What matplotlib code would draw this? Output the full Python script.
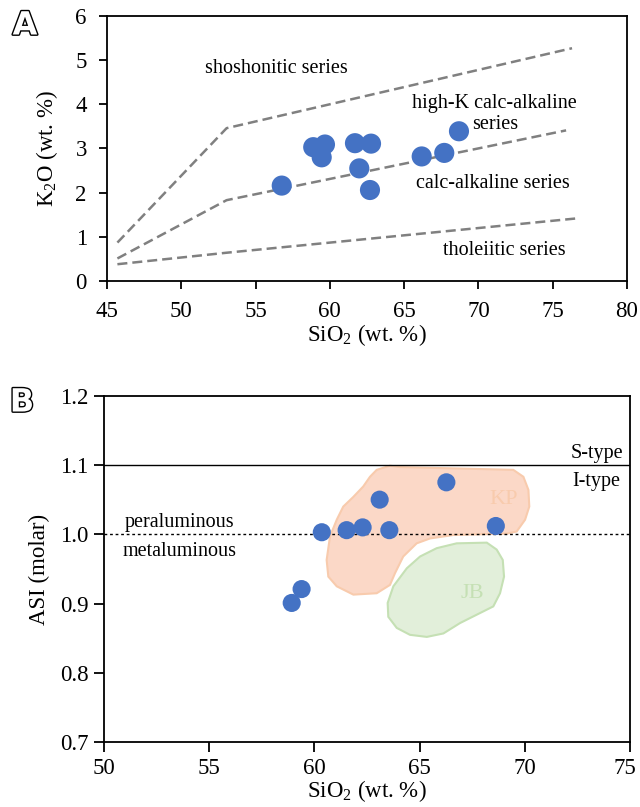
import matplotlib
matplotlib.use("Agg")
import matplotlib.pyplot as plt
import matplotlib.patheffects as pe
import matplotlib.transforms as mtransforms
from matplotlib.patches import Polygon

plt.rcParams['font.family'] = ['Liberation Serif', 'DejaVu Serif']
plt.rcParams['mathtext.fontset'] = 'custom'
plt.rcParams['mathtext.rm'] = 'Liberation Serif'
plt.rcParams['mathtext.it'] = 'Liberation Serif:italic'

# ---- panel A data: K2O vs SiO2 ----
sio2_a = [56.76, 58.88, 59.45, 59.67, 61.69, 62.77, 61.98, 62.70, 66.18, 67.70, 68.69]
k2o_a = [2.16, 3.03, 2.80, 3.09, 3.12, 3.11, 2.55, 2.06, 2.82, 2.90, 3.39]

# series boundaries (Peccerillo & Taylor style)
sho_x = [45.7, 53.05, 76.3]
sho_y = [0.87, 3.46, 5.27]
hik_x = [45.7, 53.05, 75.9]
hik_y = [0.51, 1.83, 3.41]
tho_x = [45.7, 53.05, 76.7]
tho_y = [0.38, 0.64, 1.42]

# ---- panel B data: ASI vs SiO2 ----
sio2_b = [58.92, 59.39, 60.35, 61.53, 62.29, 63.10, 63.56, 66.27, 68.62]
asi_b = [0.901, 0.921, 1.003, 1.006, 1.010, 1.050, 1.006, 1.075, 1.012]

kp_x = [62.96, 63.59, 64.07, 69.45, 69.93, 70.17, 70.21, 70.01, 69.61, 69.14, 66.60,
        65.49, 64.86, 64.22, 63.83, 63.59, 62.96, 61.85, 61.06, 60.66, 60.58, 60.74,
        61.06, 61.37, 61.85, 62.32, 62.64]
kp_y = [1.093, 1.099, 1.097, 1.093, 1.083, 1.064, 1.040, 1.021, 1.004, 1.001, 0.999,
        0.994, 0.987, 0.968, 0.944, 0.927, 0.915, 0.913, 0.925, 0.939, 0.963, 0.997,
        1.021, 1.040, 1.054, 1.069, 1.083]
jb_x = [66.76, 68.19, 68.66, 68.95, 69.01, 68.82, 68.50, 67.71, 66.92, 66.13, 65.34,
        64.54, 63.91, 63.51, 63.48, 63.75, 64.39, 65.02, 65.81]
jb_y = [0.987, 0.988, 0.978, 0.963, 0.939, 0.915, 0.896, 0.884, 0.872, 0.857, 0.852,
        0.855, 0.865, 0.881, 0.901, 0.925, 0.951, 0.968, 0.980]

blue = '#4472C4'

fig = plt.figure(figsize=(6.4, 8.07), dpi=100)
axA = fig.add_axes([0.1672, 0.6518, 0.8125, 0.3284])
axB = fig.add_axes([0.1625, 0.0802, 0.822, 0.4295])

for ax in (axA, axB):
    for sp in ax.spines.values():
        sp.set_linewidth(1.3)
axA.tick_params(direction='out', length=5.5, width=1.3, pad=9, labelsize=16.5, top=False, right=False)
axB.tick_params(direction='out', length=7.5, width=1.3, pad=3.5, labelsize=16.5, top=False, right=False)

# panel A
for xs, ys in ((sho_x, sho_y), (hik_x, hik_y), (tho_x, tho_y)):
    axA.plot(xs, ys, ls=(0, (4, 2)), color='#808080', lw=1.8)
axA.scatter(sio2_a, k2o_a, s=210, color=blue, zorder=3, edgecolors='none')
axA.set_xlim(45, 80)
axA.set_ylim(0, 6)
axA.set_xticks(range(45, 81, 5))
axA.set_yticks(range(0, 7))
axA.set_xlabel('SiO$_2$ (wt. %)', fontsize=16.5, labelpad=0)
axA.set_ylabel('K$_2$O (wt. %)', fontsize=16.5, labelpad=11)
tk = dict(fontsize=14.5, ha='center', va='center')
axA.text(56.4, 4.82, 'shoshonitic series', **tk)
axA.text(71.1, 3.78, 'high-K calc-alkaline\nseries', linespacing=1.1, **tk)
axA.text(71.0, 2.2, 'calc-alkaline series', **tk)
axA.text(71.76, 0.68, 'tholeiitic series', **tk)

# panel B
axB.add_patch(Polygon(list(zip(kp_x, kp_y)), closed=True, facecolor='#FBD8C7',
                      edgecolor='#F8CBAD', lw=1.5, zorder=1))
axB.add_patch(Polygon(list(zip(jb_x, jb_y)), closed=True, facecolor='#E2EFDA',
                      edgecolor='#C5E0B4', lw=1.5, zorder=1))
axB.axhline(1.1, color='k', lw=1)
axB.axhline(1.0, color='k', lw=1, ls=(0, (2, 2)))
axB.scatter(sio2_b, asi_b, s=170, color=blue, zorder=3, edgecolors='none')
axB.set_xlim(50, 75)
axB.set_ylim(0.7, 1.2)
axB.set_xticks(range(50, 76, 5))
axB.set_yticks([0.7, 0.8, 0.9, 1.0, 1.1, 1.2])
axB.set_yticklabels(['0.7', '0.8', '0.9', '1.0', '1.1', '1.2'])
axB.set_xlabel('SiO$_2$ (wt. %)', fontsize=16.5, labelpad=0)
axB.set_ylabel('ASI (molar)', fontsize=16.5, labelpad=7.5)
axB.text(73.43, 1.116, 'S-type', **tk)
axB.text(73.4, 1.076, 'I-type', **tk)
axB.text(53.57, 1.017, 'peraluminous', **tk)
axB.text(53.6, 0.975, 'metaluminous', **tk)
axB.text(68.98, 1.05, 'KP', fontsize=16, ha='center', va='center', color='#F8CBAD')
axB.text(67.48, 0.915, 'JB', fontsize=16, ha='center', va='center', color='#C5E0B4')

# last x tick label sits a little left so it stays inside the figure
fig.canvas.draw()
last = axB.get_xticklabels()[-1]
last.set_transform(last.get_transform() + mtransforms.ScaledTranslation(-5 / 100, 0, fig.dpi_scale_trans))

# outlined panel letters
outline = [pe.withStroke(linewidth=2, foreground='k')]
for lab, xx, yy in (('A', 25, 26), ('B', 22, 403)):
    fig.text(xx / 640, 1 - yy / 807, lab, fontsize=23, fontweight='bold', family='DejaVu Sans',
             color='white', ha='center', va='center', path_effects=outline)

fig.savefig('out.png', dpi=100)
